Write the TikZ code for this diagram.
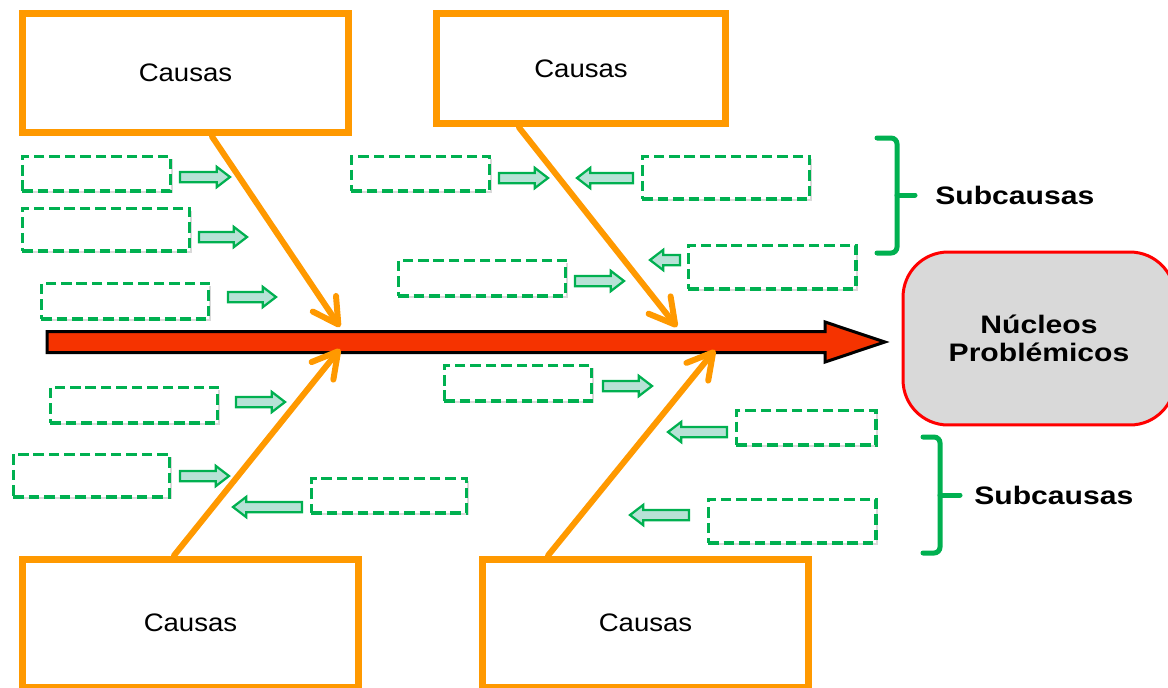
\documentclass[tikz,border=0pt]{standalone}
\usepackage{fontspec}
\setmainfont{Liberation Sans}
\newfontfamily\causafont[FakeStretch=1.09]{Liberation Sans}
\newfontfamily\rotulofont[FakeStretch=1.19]{Liberation Sans}
\usetikzlibrary{positioning}
\usetikzlibrary{shapes.arrows}
\usetikzlibrary{shadows}
\usetikzlibrary{arrows.meta}

\definecolor{naranja}{RGB}{255,153,0}
\definecolor{verde}{RGB}{0,176,80}
\definecolor{verdeclaro}{RGB}{183,226,214}
\definecolor{rojizo}{RGB}{245,51,0}
\definecolor{rojooscuro}{RGB}{200,40,0}
\definecolor{grisnucleo}{RGB}{217,217,217}

\tikzset{
  causa/.style={draw=naranja, line width=0.14cm, fill=white,
    font=\causafont\fontsize{14.4}{16}\selectfont,
    drop shadow={shadow xshift=-1.5pt, shadow yshift=-1.5pt, opacity=0.25}},
  subcausa/.style={draw=verde, line width=0.07cm, dash pattern=on 6pt off 2.8pt,
    fill=white, inner sep=0pt,
    drop shadow={shadow xshift=1.5pt, shadow yshift=-1.5pt, opacity=0.3}},
  flechita/.style={single arrow, draw=verde, fill=verdeclaro, line width=0.045cm,
    inner xsep=0pt, inner ysep=0.08cm, single arrow head extend=0.1cm,
    single arrow tip angle=75, outer sep=0pt, anchor=tail},
  espina/.style={single arrow, draw=black, fill=rojizo, line width=0.06cm,
    inner xsep=0pt, inner ysep=0.18cm, single arrow head extend=0.19cm,
    single arrow tip angle=37, minimum height=16.76cm, outer sep=0pt},
  hueso/.style={draw=naranja, line width=0.12cm, line cap=round,
    -{Straight Barb[length=0.5cm, width=0.56cm, round]}},
  nucleo/.style={draw=red, fill=grisnucleo, line width=0.06cm, rounded corners=0.9cm,
    minimum width=5.44cm, minimum height=3.46cm, align=center,
    font=\rotulofont\bfseries\fontsize{14.4}{16}\selectfont},
  llave/.style={draw=verde, line width=0.1cm, line cap=round, rounded corners=0.12cm},
  rotulo/.style={font=\rotulofont\bfseries\fontsize{14.4}{16}\selectfont, inner sep=0pt}
}

\begin{document}
\begin{tikzpicture}[x=0.02cm, y=-0.02cm]

\useasboundingbox (0,0) rectangle (1168,687);

%================ ESPINA ==================
\node[espina, anchor=tail] (espina) at (47,342) {};

%================ CAUSAS ==================
\node[causa, minimum width=6.54cm, minimum height=2.4cm] (causa1) at (185.5,73) {Causas};
\node[causa, minimum width=5.8cm, minimum height=2.22cm] (causa2) at (581,68.5) {Causas};
\node[causa, minimum width=6.74cm, minimum height=2.56cm] (causa3) at (190.5,623) {Causas};
\node[causa, minimum width=6.54cm, minimum height=2.56cm] (causa4) at (645.5,623) {Causas};

% Huesos hacia la espina
\coordinate (punta1) at (340,327);
\coordinate (punta2) at (677,327);
\coordinate (punta3) at (340,349);
\coordinate (punta4) at (715,350);
\draw[hueso] ([xshift=0.53cm]causa1.south) -- (punta1);
\draw[hueso] ([xshift=-1.24cm]causa2.south) -- (punta2);
\draw[hueso] ([xshift=-0.33cm]causa3.north) -- (punta3);
\draw[hueso] ([xshift=-1.95cm]causa4.north) -- (punta4);

%================ SUBCAUSAS ==================
\foreach \n/\x/\y/\w/\h in {
    1/96.5/173.5/2.97/0.69, 2/106/229.5/3.35/0.85, 3/125/301/3.35/0.71,
    4/420.5/173.5/2.77/0.69, 5/726/177.5/3.35/0.85, 6/482/278/3.35/0.71,
    7/772/267/3.35/0.87, 8/134/405/3.35/0.71, 9/91.5/475.5/3.13/0.85,
    10/389/495.5/3.11/0.69, 11/518/383/2.95/0.71, 12/806/427.5/2.79/0.69,
    13/792/521/3.35/0.87} {
  \node[subcausa, minimum width=\w cm, minimum height=\h cm] (sub\n) at (\x,\y) {};
}

% Flechas de las subcausas (x = cola)
\foreach \n/\x/\y/\l/\rot in {
    1/180/177/1.0/0, 2/199/237/0.96/0, 3/228/297/0.96/0,
    4/499/178/0.98/0, 5/633/178/1.12/180, 6/575/281/0.98/0,
    7/680/260/0.6/180, 8/236/402/0.98/0, 9/180/476/0.98/0,
    10/302/507/1.38/180, 11/603/386/0.98/0, 12/727/432/1.18/180,
    13/689/515/1.18/180} {
  \node[flechita, minimum height=\l cm, shape border rotate=\rot] (flecha\n) at (\x,\y) {};
}

%================ NUCLEO ==================
\node[nucleo] (nucleo) at (1039,338.5) {Núcleos\\Problémicos};

%================ LLAVES ==================
\draw[llave] (877,138) -- (897,138) -- (897,253) -- (877,253);
\draw[llave] (897,195) -- (915,195);
\coordinate (llave1) at (915,195);
\node[rotulo, right=0.4cm of llave1, anchor=west] (rotulo1) {Subcausas};

\draw[llave] (923,437) -- (940,437) -- (940,553) -- (923,553);
\draw[llave] (940,495) -- (960,495);
\coordinate (llave2) at (960,495);
\node[rotulo, right=0.28cm of llave2, anchor=west] (rotulo2) {Subcausas};

\end{tikzpicture}
\end{document}
